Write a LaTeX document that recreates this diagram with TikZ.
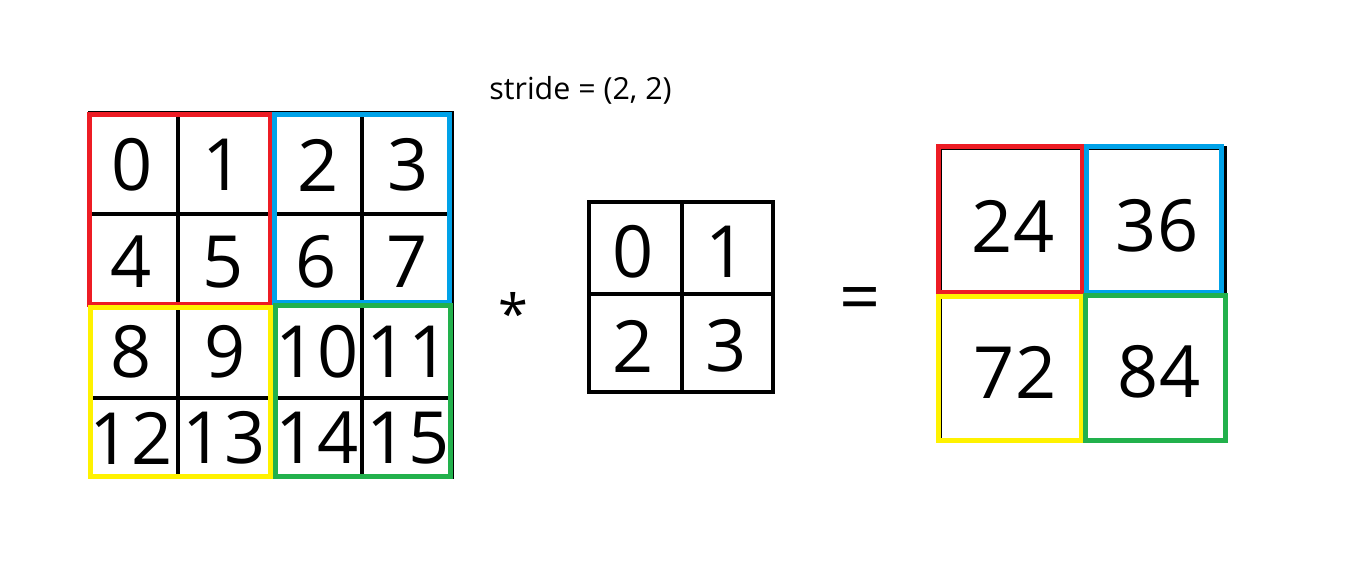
\documentclass[tikz,border=0pt]{standalone}
\usepackage{fontspec}
\setmainfont{Open Sans}
\definecolor{pred}{RGB}{237,28,36}
\definecolor{pblue}{RGB}{0,162,232}
\definecolor{pyellow}{RGB}{255,242,0}
\definecolor{pgreen}{RGB}{34,177,76}
\begin{document}
\begin{tikzpicture}[x=0.5pt,y=-0.5pt,
  gridline/.style={draw=black,line width=2pt},
  hl/.style={line width=2.5pt},
  digit/.style={inner sep=0pt,font=\fontsize{36}{40}\selectfont},
  label/.style={inner sep=0pt,font=\fontsize{15.2}{18}\selectfont}]
\useasboundingbox[fill=white] (0,0) rectangle (1365,569);
% ---- input grid
\draw[gridline] (90,113) rectangle (452,477);
\foreach \x in {178,271,362} \draw[gridline] (\x,113) -- (\x,477);
\foreach \y in {214,305,398} \draw[gridline] (90,\y) -- (452,\y);
\draw[hl,pred] (89,114) rectangle (270,304);
\draw[hl,pblue] (274,114) rectangle (449,302);
\draw[hl,pyellow] (90,307) rectangle (270,476);
\draw[hl,pgreen] (275,305) rectangle (450,476);
\node[digit] (i0) at (132,165) {0};
\node[digit] (i1) at (223,165) {1};
\node[digit] (i2) at (318,165) {2};
\node[digit] (i3) at (408,165) {3};
\node[digit] (i4) at (131,262) {4};
\node[digit] (i5) at (223,262) {5};
\node[digit] (i6) at (316,262) {6};
\node[digit] (i7) at (407,262) {7};
\node[digit] (i8) at (131,352) {8};
\node[digit] (i9) at (225,352) {9};
\node[digit] (i10) at (317,352) {10};
\node[digit] (i11) at (408,352) {11};
\node[digit] (i12) at (131,438) {12};
\node[digit] (i13) at (224,438) {13};
\node[digit] (i14) at (317,438) {14};
\node[digit] (i15) at (408,438) {15};
% ---- operators and label
\node[label,anchor=base west] (stride) at (489,99) {stride = (2, 2)};
\node[inner sep=0pt,font=\fontsize{27}{30}\selectfont,anchor=base] (star) at (513,333) {*};
\node[digit,anchor=base] (eq) at (860,322) {=};
% ---- kernel
\draw[gridline] (589,202) rectangle (773,392);
\draw[gridline] (682,202) -- (682,392);
\draw[gridline] (589,294) -- (773,294);
\node[digit] (k0) at (633,252) {0};
\node[digit] (k1) at (726,252) {1};
\node[digit] (k2) at (633,346) {2};
\node[digit] (k3) at (726,346) {3};
% ---- output
\draw[gridline] (940,148) rectangle (1225,441);
\draw[gridline] (1084,148) -- (1084,441);
\draw[gridline] (940,294) -- (1225,294);
\draw[hl,pred] (938,146) rectangle (1082,292);
\draw[hl,pblue] (1086,146) rectangle (1221,292);
\draw[hl,pyellow] (938,296) rectangle (1081,440);
\draw[hl,pgreen] (1085,295) rectangle (1225,440);
\node[digit] (o0) at (1013,226) {24};
\node[digit] (o1) at (1157,226) {36};
\node[digit] (o2) at (1015,372) {72};
\node[digit] (o3) at (1159,372) {84};
\end{tikzpicture}
\end{document}
